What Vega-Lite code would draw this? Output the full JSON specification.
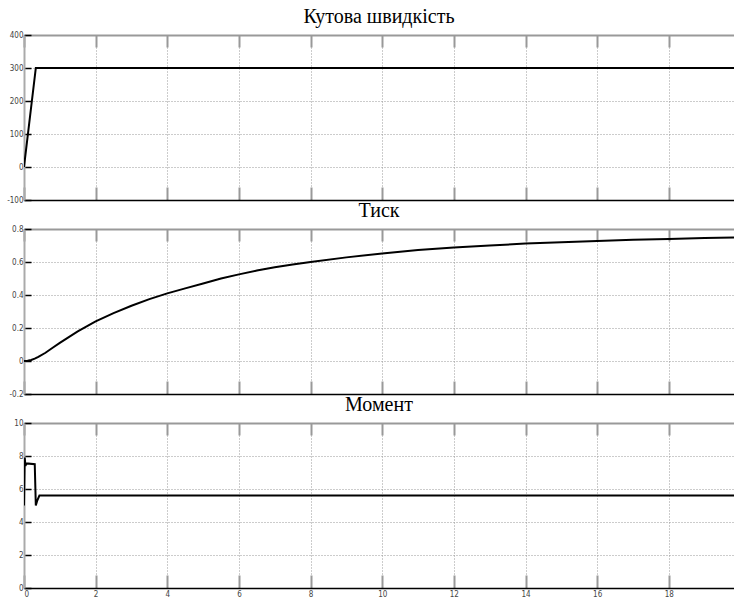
{
  "$schema": "https://vega.github.io/schema/vega-lite/v6.json",
  "padding": {"left": 6, "top": 7, "right": 0, "bottom": 0},
  "background": "white",
  "bounds": "flush",
  "spacing": 29,
  "datasets": {
    "speed": [
      {"t": 0, "v": 0},
      {"t": 0.33, "v": 300},
      {"t": 19.82, "v": 300}
    ],
    "pressure": [
      {"t": 0, "v": 0},
      {"t": 0.1, "v": 0.002},
      {"t": 0.2, "v": 0.006},
      {"t": 0.3, "v": 0.014},
      {"t": 0.4, "v": 0.025},
      {"t": 0.6, "v": 0.05},
      {"t": 0.8, "v": 0.08},
      {"t": 1.0, "v": 0.11},
      {"t": 1.25, "v": 0.145},
      {"t": 1.5, "v": 0.18},
      {"t": 1.75, "v": 0.21},
      {"t": 2.0, "v": 0.24},
      {"t": 2.5, "v": 0.29},
      {"t": 3.0, "v": 0.335},
      {"t": 3.5, "v": 0.375},
      {"t": 4.0, "v": 0.41},
      {"t": 4.5, "v": 0.44},
      {"t": 5.0, "v": 0.47},
      {"t": 5.5, "v": 0.5},
      {"t": 6.0, "v": 0.525},
      {"t": 6.5, "v": 0.548},
      {"t": 7.0, "v": 0.568},
      {"t": 7.5, "v": 0.585},
      {"t": 8.0, "v": 0.6},
      {"t": 9.0, "v": 0.628},
      {"t": 10.0, "v": 0.652},
      {"t": 11.0, "v": 0.672},
      {"t": 12.0, "v": 0.688},
      {"t": 13.0, "v": 0.7},
      {"t": 14.0, "v": 0.712},
      {"t": 15.0, "v": 0.72},
      {"t": 16.0, "v": 0.728},
      {"t": 17.0, "v": 0.735},
      {"t": 18.0, "v": 0.74},
      {"t": 19.0, "v": 0.745},
      {"t": 19.82, "v": 0.748}
    ],
    "moment": [
      {"t": 0, "v": 5.0},
      {"t": 0.02, "v": 7.9},
      {"t": 0.04, "v": 7.4},
      {"t": 0.07, "v": 7.55},
      {"t": 0.3, "v": 7.5},
      {"t": 0.33, "v": 5.0},
      {"t": 0.37, "v": 5.3},
      {"t": 0.43, "v": 5.6},
      {"t": 19.82, "v": 5.6}
    ]
  },
  "config": {
    "view": {"stroke": null},
    "title": {"font": "Liberation Serif", "fontSize": 20, "fontWeight": "normal", "color": "black", "offset": 4, "anchor": "middle"},
    "style": {"group-title": {"font": "Liberation Serif", "fontSize": 20, "fontWeight": "normal"}},
    "axis": {
      "labelFont": "Liberation Sans Narrow, DejaVu Sans Condensed",
      "labelFontSize": 8,
      "labelColor": "#444",
      "labelOverlap": false,
      "labelExpr": "replace(format(datum.value, ''), '−', '-')",
      "title": null,
      "gridColor": "#999",
      "gridDash": [1, 2],
      "gridWidth": 1,
      "gridOpacity": 1
    }
  },
  "vconcat": [
    {
      "title": {"text": "Кутова швидкість", "font": "Liberation Serif", "fontSize": 20, "fontWeight": "normal", "offset": 4},
      "width": 710,
      "height": 165,
      "data": {"name": "speed"},
      "encoding": {
        "y": {"field": "v", "type": "quantitative", "scale": {"domain": [-100, 400], "nice": false, "zero": false},
          "axis": {"values": [-100, 0, 100, 200, 300, 400], "grid": true, "domainColor": "#aaa", "domainWidth": 2, "tickColor": "black", "tickWidth": 1.5, "tickSize": -7, "labelPadding": 8}}
      },
      "layer": [
        {
          "mark": {"type": "line", "color": "black", "strokeWidth": 2, "clip": true},
          "encoding": {
            "x": {"field": "t", "type": "quantitative", "scale": {"domain": [0, 19.82], "nice": false, "zero": false},
              "axis": {"orient": "bottom", "values": [0, 2, 4, 6, 8, 10, 12, 14, 16, 18], "labels": false, "grid": true, "domainColor": "black", "domainWidth": 1.5, "tickColor": "#999", "tickWidth": 2, "tickSize": -13}}
          }
        },
        {
          "mark": {"type": "line", "opacity": 0},
          "encoding": {
            "x": {"field": "t", "type": "quantitative", "scale": {"domain": [0, 19.82], "nice": false, "zero": false},
              "axis": {"orient": "top", "values": [0, 2, 4, 6, 8, 10, 12, 14, 16, 18], "labels": false, "grid": false, "domainColor": "#999", "domainWidth": 2, "tickColor": "#999", "tickWidth": 2, "tickSize": -12}}
          }
        }
      ],
      "resolve": {"axis": {"x": "independent"}}
    },
    {
      "title": {"text": "Тиск", "font": "Liberation Serif", "fontSize": 20, "fontWeight": "normal", "offset": 4},
      "width": 710,
      "height": 165,
      "data": {"name": "pressure"},
      "encoding": {
        "y": {"field": "v", "type": "quantitative", "scale": {"domain": [-0.2, 0.8], "nice": false, "zero": false},
          "axis": {"values": [-0.2, 0, 0.2, 0.4, 0.6, 0.8], "grid": true, "domainColor": "#aaa", "domainWidth": 2, "tickColor": "black", "tickWidth": 1.5, "tickSize": -7, "labelPadding": 8}}
      },
      "layer": [
        {
          "mark": {"type": "line", "color": "black", "strokeWidth": 2, "clip": true},
          "encoding": {
            "x": {"field": "t", "type": "quantitative", "scale": {"domain": [0, 19.82], "nice": false, "zero": false},
              "axis": {"orient": "bottom", "values": [0, 2, 4, 6, 8, 10, 12, 14, 16, 18], "labels": false, "grid": true, "domainColor": "black", "domainWidth": 1.5, "tickColor": "#999", "tickWidth": 2, "tickSize": -13}}
          }
        },
        {
          "mark": {"type": "line", "opacity": 0},
          "encoding": {
            "x": {"field": "t", "type": "quantitative", "scale": {"domain": [0, 19.82], "nice": false, "zero": false},
              "axis": {"orient": "top", "values": [0, 2, 4, 6, 8, 10, 12, 14, 16, 18], "labels": false, "grid": false, "domainColor": "#999", "domainWidth": 2, "tickColor": "#999", "tickWidth": 2, "tickSize": -12}}
          }
        }
      ],
      "resolve": {"axis": {"x": "independent"}}
    },
    {
      "title": {"text": "Момент", "font": "Liberation Serif", "fontSize": 20, "fontWeight": "normal", "offset": 4},
      "width": 710,
      "height": 165,
      "data": {"name": "moment"},
      "encoding": {
        "y": {"field": "v", "type": "quantitative", "scale": {"domain": [0, 10], "nice": false, "zero": false},
          "axis": {"values": [0, 2, 4, 6, 8, 10], "grid": true, "domainColor": "#aaa", "domainWidth": 2, "tickColor": "black", "tickWidth": 1.5, "tickSize": -7, "labelPadding": 8}}
      },
      "layer": [
        {
          "mark": {"type": "line", "color": "black", "strokeWidth": 2, "clip": true},
          "encoding": {
            "x": {"field": "t", "type": "quantitative", "scale": {"domain": [0, 19.82], "nice": false, "zero": false},
              "axis": {"orient": "bottom", "values": [0, 2, 4, 6, 8, 10, 12, 14, 16, 18], "labels": true, "labelPadding": 15, "grid": true, "domainColor": "black", "domainWidth": 1.5, "tickColor": "#999", "tickWidth": 2, "tickSize": -13}}
          }
        },
        {
          "mark": {"type": "line", "opacity": 0},
          "encoding": {
            "x": {"field": "t", "type": "quantitative", "scale": {"domain": [0, 19.82], "nice": false, "zero": false},
              "axis": {"orient": "top", "values": [0, 2, 4, 6, 8, 10, 12, 14, 16, 18], "labels": false, "grid": false, "domainColor": "#999", "domainWidth": 2, "tickColor": "#999", "tickWidth": 2, "tickSize": -12}}
          }
        }
      ],
      "resolve": {"axis": {"x": "independent"}}
    }
  ]
}
